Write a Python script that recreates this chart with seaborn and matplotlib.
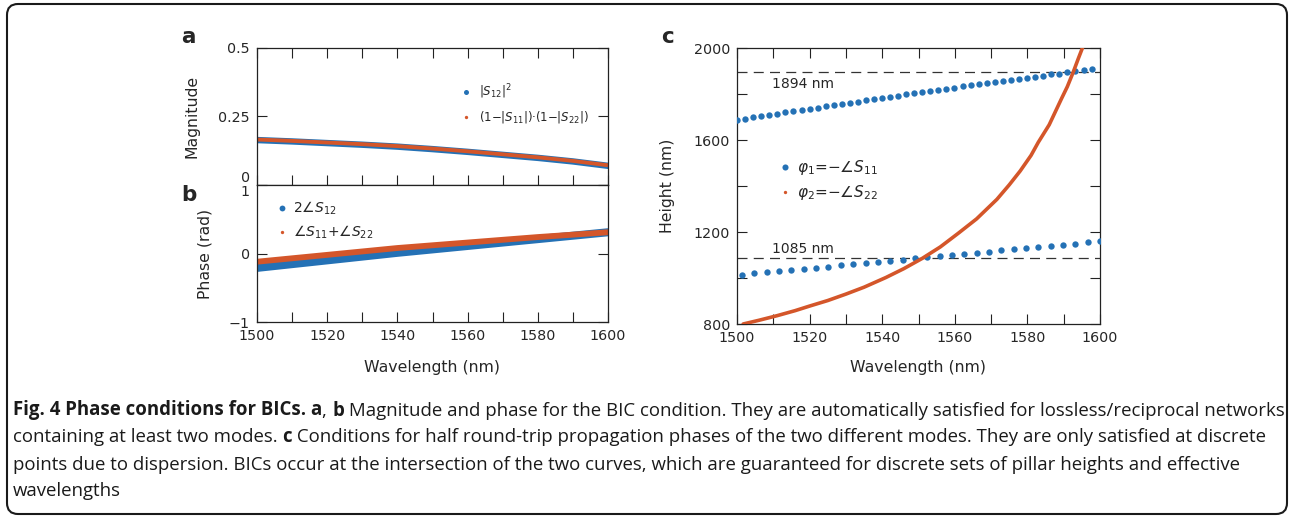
import matplotlib
matplotlib.use("Agg")
import matplotlib.pyplot as plt
from matplotlib.lines import Line2D
from matplotlib.patches import FancyBboxPatch
from matplotlib.transforms import IdentityTransform
from matplotlib.ticker import MultipleLocator, FixedLocator
import pandas as pd
import seaborn as sns

# ---- data ----
# panels a / b
wl_ab = [1500, 1510, 1520, 1530, 1540, 1550, 1560, 1570, 1580, 1590, 1600]
mag_s12 = [0.164, 0.159, 0.153, 0.147, 0.140, 0.131, 0.121, 0.110, 0.099, 0.086, 0.070]
mag_s11s22 = [0.166, 0.161, 0.155, 0.149, 0.142, 0.133, 0.123, 0.112, 0.101, 0.088, 0.072]
phase_s12 = [-0.21, -0.155, -0.10, -0.045, 0.01, 0.06, 0.11, 0.16, 0.21, 0.26, 0.31]
phase_s11s22 = [-0.12, -0.07, -0.02, 0.03, 0.08, 0.12, 0.16, 0.20, 0.24, 0.275, 0.31]

# panel c, phi1 (two branches of dots)
wl_phi1_hi = [1500.0, 1502.2, 1504.4, 1506.7, 1508.9, 1511.1, 1513.3, 1515.5, 1517.8, 1520.0,
              1522.2, 1524.4, 1526.6, 1528.9, 1531.1, 1533.3, 1535.5, 1537.7, 1540.0, 1542.2,
              1544.4, 1546.6, 1548.8, 1551.1, 1553.3, 1555.5, 1557.7, 1559.9, 1562.2, 1564.4,
              1566.6, 1568.8, 1571.0, 1573.3, 1575.5, 1577.7, 1579.9, 1582.1, 1584.4, 1586.6,
              1588.8, 1591.0, 1593.2, 1595.5, 1597.7]
h_phi1_hi = [1687, 1692, 1698, 1704, 1709, 1714, 1720, 1725, 1731, 1736,
             1741, 1746, 1752, 1757, 1762, 1767, 1773, 1778, 1783, 1788,
             1793, 1798, 1803, 1808, 1813, 1818, 1823, 1828, 1833, 1838,
             1842, 1847, 1852, 1857, 1861, 1866, 1871, 1875, 1880, 1885,
             1889, 1894, 1898, 1903, 1907]
wl_phi1_lo = [1501.4, 1504.8, 1508.2, 1511.6, 1515.0, 1518.4, 1521.8, 1525.2, 1528.6, 1532.0,
              1535.4, 1538.8, 1542.2, 1545.6, 1549.0, 1552.4, 1555.8, 1559.2, 1562.6, 1566.0,
              1569.4, 1572.8, 1576.2, 1579.6, 1583.0, 1586.4, 1589.8, 1593.2, 1596.6, 1600.0]
h_phi1_lo = [1015, 1020, 1025, 1030, 1035, 1040, 1045, 1050, 1055, 1060,
             1065, 1070, 1075, 1080, 1085, 1090, 1095, 1100, 1105, 1110,
             1115, 1120, 1125, 1130, 1135, 1140, 1145, 1150, 1155, 1161]

# panel c, phi2 (dense curve)
wl_phi2 = [1501.7, 1506, 1511, 1516, 1520, 1525, 1530, 1535, 1541, 1546, 1551, 1556, 1561,
           1566, 1571.6, 1575, 1578, 1581, 1583, 1586, 1589.4, 1591, 1592.6, 1594, 1595.4]
h_phi2 = [800, 816, 836, 858, 878, 902, 930, 960, 1002, 1041, 1085, 1135, 1195,
          1257, 1342, 1405, 1465, 1533, 1590, 1666, 1780, 1832, 1894, 1953, 2010]

bic_heights = [1894, 1085]

blue = "#2471b5"
orange = "#d4562a"

sns.set_style("ticks")
plt.rcParams["font.family"] = ["DejaVu Sans"]
plt.rcParams["mathtext.fontset"] = "dejavusans"

W, H = 1290, 516
fig = plt.figure(figsize=(W / 100, H / 100), dpi=100)

ax_a = fig.add_axes([257 / W, 1 - 185 / H, 351 / W, 137 / H])
ax_b = fig.add_axes([257 / W, 1 - 322 / H, 351 / W, 137 / H])
ax_c = fig.add_axes([737 / W, 1 - 324 / H, 363 / W, 276 / H])

df_ab = pd.DataFrame({"wl": wl_ab, "m12": mag_s12, "m1122": mag_s11s22,
                      "p12": phase_s12, "p1122": phase_s11s22})

# a
sns.lineplot(data=df_ab, x="wl", y="m12", ax=ax_a, color=blue, lw=4.6,
             solid_capstyle="round", legend=False)
sns.lineplot(data=df_ab, x="wl", y="m1122", ax=ax_a, color=orange, lw=2.8,
             solid_capstyle="butt", legend=False)
# b
sns.lineplot(data=df_ab, x="wl", y="p12", ax=ax_b, color=blue, lw=5.8,
             solid_capstyle="round", legend=False)
sns.lineplot(data=df_ab, x="wl", y="p1122", ax=ax_b, color=orange, lw=4.2,
             solid_capstyle="round", legend=False)

# c
sns.scatterplot(x=wl_phi1_hi, y=h_phi1_hi, ax=ax_c, color=blue, s=21, linewidth=0, zorder=3)
sns.scatterplot(x=wl_phi1_lo, y=h_phi1_lo, ax=ax_c, color=blue, s=21, linewidth=0, zorder=3)
sns.lineplot(x=wl_phi2, y=h_phi2, ax=ax_c, color=orange, lw=2.6, zorder=4, legend=False)
for h in bic_heights:
    ax_c.axhline(h, color="#333333", lw=0.9, dashes=(8, 5), zorder=2)
ax_c.text(1509.6, 1827, f"{bic_heights[0]} nm", fontsize=10, va="baseline", ha="left")
ax_c.text(1509.6, 1107, f"{bic_heights[1]} nm", fontsize=10, va="baseline", ha="left")

for ax in (ax_a, ax_b, ax_c):
    ax.set_xlim(1500, 1600)
    ax.xaxis.set_major_locator(MultipleLocator(20))
    ax.xaxis.set_minor_locator(MultipleLocator(10))
    ax.tick_params(which="both", direction="in", length=7, width=0.8,
                   top=True, right=True, labelsize=10.3, pad=5, color="#222222")
    for s in ax.spines.values():
        s.set_linewidth(0.9)
        s.set_color("#222222")
    ax.set_xlabel("")
    ax.set_ylabel("")

ax_a.set_ylim(0, 0.5)
ax_a.yaxis.set_major_locator(FixedLocator([0, 0.25, 0.5]))
ax_a.set_yticklabels(["0", "0.25", "0.5"])
ax_a.tick_params(labelbottom=False)
ax_a.get_yticklabels()[0].set_va("bottom")

ax_b.set_ylim(-1, 1)
ax_b.yaxis.set_major_locator(FixedLocator([-1, 0, 1]))
ax_b.set_yticklabels(["\u22121", "0", "1"])
ax_b.tick_params(which="both", top=False)
ax_b.get_yticklabels()[2].set_va("top")

ax_c.set_ylim(800, 2000)
ax_c.yaxis.set_major_locator(MultipleLocator(400))
ax_c.yaxis.set_minor_locator(MultipleLocator(200))

ax_a.set_ylabel("Magnitude", fontsize=11.3)
ax_a.yaxis.set_label_coords(-0.165, 0.5)
ax_b.set_ylabel("Phase (rad)", fontsize=11.3)
ax_b.yaxis.set_label_coords(-0.128, 0.5)
ax_b.set_xlabel("Wavelength (nm)", fontsize=11.3)
ax_b.xaxis.set_label_coords(0.5, -0.277)
ax_c.set_ylabel("Height (nm)", fontsize=11.3)
ax_c.yaxis.set_label_coords(-0.171, 0.5)
ax_c.set_xlabel("Wavelength (nm)", fontsize=11.3)
ax_c.xaxis.set_label_coords(0.5, -0.130)


def dot(color, ms):
    return Line2D([], [], ls="none", marker="o", ms=ms, mfc=color, mec="none")


ax_a.legend([dot(blue, 3.6), dot(orange, 2.4)],
            [r"|$S_{\mathrm{12}}$|$^{2}$",
             "(1\u2212|$S_{\\mathrm{11}}$|)\u00b7(1\u2212|$S_{\\mathrm{22}}$|)"],
            loc="center left", bbox_to_anchor=(0.582, 0.591), frameon=False,
            fontsize=8.5, handlelength=0.8, handletextpad=0.7, labelspacing=0.7,
            borderpad=0, borderaxespad=0)
ax_b.legend([dot(blue, 4.2), dot(orange, 2.4)],
            [r"2$\angle S_{\mathrm{12}}$", r"$\angle S_{\mathrm{11}}$+$\angle S_{\mathrm{22}}$"],
            loc="center left", bbox_to_anchor=(0.055, 0.741), frameon=False,
            fontsize=10, handlelength=0.8, handletextpad=0.4, labelspacing=0.5,
            borderpad=0, borderaxespad=0)
ax_c.legend([dot(blue, 4.4), dot(orange, 2.4)],
            ["$\\varphi_{\\mathrm{1}}$=\u2212$\\angle S_{\\mathrm{11}}$",
             "$\\varphi_{\\mathrm{2}}$=\u2212$\\angle S_{\\mathrm{22}}$"],
            loc="center left", bbox_to_anchor=(0.115, 0.521), frameon=False,
            fontsize=11, handlelength=0.8, handletextpad=0.37, labelspacing=0.42,
            borderpad=0, borderaxespad=0)

# panel letters
for letter, x, y in [("a", 188, 43), ("b", 189, 201), ("c", 667, 43)]:
    fig.text(x / W, 1 - y / H, letter, fontsize=15.5, fontweight="bold",
             ha="center", va="baseline")

# caption
renderer = fig.canvas.get_renderer()


def run_width(s, size, bold):
    kw = dict(fontsize=size, family="Open Sans", fontweight="bold" if bold else "normal")
    t1 = fig.text(0, 0, "|" + s + "|", **kw)
    t2 = fig.text(0, 0, "||", **kw)
    w = t1.get_window_extent(renderer).width - t2.get_window_extent(renderer).width
    t1.remove()
    t2.remove()
    return w


caption = [
    [("Fig. 4 Phase conditions for BICs. a", True), (", ", False), ("b", True),
     (" Magnitude and phase for the BIC condition. They are automatically satisfied "
      "for lossless/reciprocal networks", False)],
    [("containing at least two modes. ", False), ("c", True),
     (" Conditions for half round-trip propagation phases of the two different modes. "
      "They are only satisfied at discrete", False)],
    [("points due to dispersion. BICs occur at the intersection of the two curves, which "
      "are guaranteed for discrete sets of pillar heights and effective", False)],
    [("wavelengths", False)],
]

base_size = 13.0
w0 = sum(run_width(s, base_size, b) for s, b in caption[0])
cap_size = base_size * 1262 / w0

for i, line in enumerate(caption):
    x = 13
    y = 415.5 + 27 * i
    for s, b in line:
        fig.text(x / W, 1 - y / H, s, fontsize=cap_size, family="Open Sans",
                 fontweight="bold" if b else "normal", ha="left", va="baseline",
                 color="#1a1a1a")
        x += run_width(s, cap_size, b)

frame = FancyBboxPatch((7, 2), 1280, 510, boxstyle="round,pad=0,rounding_size=11",
                       transform=IdentityTransform(), fill=False, lw=1.5,
                       edgecolor="#1a1a1a")
fig.patches.append(frame)

fig.savefig("out.png", dpi=100)
